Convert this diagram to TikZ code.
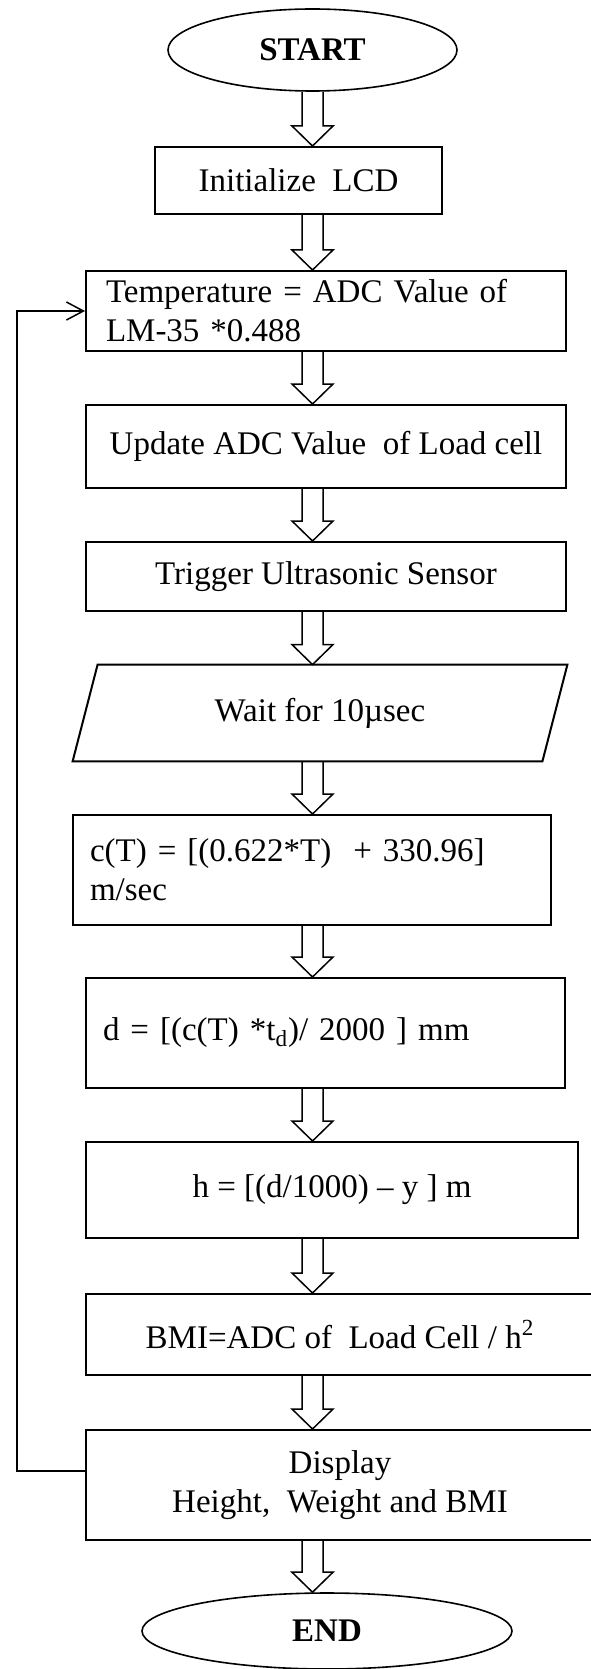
\documentclass[tikz,border=0pt]{standalone}
\usepackage{fontspec}
\setmainfont{Liberation Serif}
\usetikzlibrary{shapes.geometric,arrows.meta,calc}

\newcommand\fsz{\fontsize{16.5pt}{19.5pt}\selectfont}

% hollow double-line arrow between two flow steps, on the common axis
\newcommand\flowto[2]{%
  \coordinate (fa) at (#1.south -| axis);
  \coordinate (fb) at (#2.north -| axis);
  \draw[blockarrow] ($(fa)+(-10.5,0)$) -- ($(fb)+(-10.5,-20)$) -- ($(fb)+(-20.5,-20)$)
    -- (fb) -- ($(fb)+(20.5,-20)$) -- ($(fb)+(10.5,-20)$) -- ($(fa)+(10.5,0)$);}

\tikzset{
  procbox/.style={draw, line width=1pt, inner sep=0pt, align=center, font=\fsz},
  leftbox/.style={procbox, align=left, inner xsep=#1},
  termnode/.style={draw, ellipse, line width=0.8pt, inner sep=0pt, font=\fsz\bfseries},
  blockarrow/.style={line width=0.75pt, line join=miter},
  loopline/.style={line width=0.75pt, -{Straight Barb[length=8.5pt,width=9pt]}}
}

\begin{document}
\begin{tikzpicture}[x=0.5pt, y=-0.5pt]
\useasboundingbox (0,0) rectangle (590,1669);
\coordinate (axis) at (312.5,0);
\coordinate (loopx) at (17,0);

% terminals and process steps
\node[termnode, minimum width=144.5pt, minimum height=41pt] (start) at (312.5,50) {START};
\node[procbox, minimum width=143.5pt, minimum height=33.5pt] (init) at (298.5,180.5) {Initialize\ \ LCD};
\node[leftbox=10pt, text width=220pt, minimum height=40pt] (temp) at (326,311)
  {Temperature = ADC Value of\\LM-35 *0.488};
\node[procbox, minimum width=240pt, minimum height=41.5pt] (update) at (326,446.5)
  {Update ADC Value\ \ of Load cell};
\node[procbox, minimum width=240pt, minimum height=34.5pt] (trigger) at (326,576.5)
  {Trigger Ultrasonic Sensor};

% input/output step (parallelogram)
\node[inner sep=0pt, minimum width=234.5pt, minimum height=48pt, font=\fsz] (wait) at (320,713)
  {Wait for 10µsec};
\draw[line width=1pt, line join=miter]
  ($(wait.north west)+(12.5,0)$) -- ($(wait.north east)+(12.5,0)$)
  -- ($(wait.south east)+(-12.5,0)$) -- ($(wait.south west)+(-12.5,0)$) -- cycle;

\node[leftbox=8.5pt, text width=222pt, minimum height=55pt] (ct) at (312,870)
  {c(T) = [(0.622*T)\ \ + 330.96]\\m/sec};
\node[leftbox=8.5pt, text width=222.5pt, minimum height=55pt] (dist) at (325.5,1033)
  {d = [(c(T) *t\textsubscript{d})/ 2000 ] mm};
\node[procbox, minimum width=246pt, minimum height=48pt] (hgt) at (332,1190)
  {h = [(d/1000) – y ] m};
\node[procbox, minimum width=254pt, minimum height=40.5pt] (bmi) at (340,1334.5)
  {BMI=ADC of\ \ Load Cell / h\textsuperscript{2}};
\node[procbox, minimum width=254pt, minimum height=55pt] (display) at (340,1485)
  {Display\\Height,\ \ Weight and BMI};
\node[termnode, minimum width=185pt, minimum height=38pt] (end) at (327,1631) {END};

% flow arrows
\flowto{start}{init}
\flowto{init}{temp}
\flowto{temp}{update}
\flowto{update}{trigger}
\flowto{trigger}{wait}
\flowto{wait}{ct}
\flowto{ct}{dist}
\flowto{dist}{hgt}
\flowto{hgt}{bmi}
\flowto{bmi}{display}
\flowto{display}{end}

% loop back to the temperature reading
\coordinate (dispout) at ([yshift=7pt]display.west);
\draw[loopline] (dispout) -- (dispout -| loopx) -- (temp.west -| loopx) -- (temp.west);
\end{tikzpicture}
\end{document}
